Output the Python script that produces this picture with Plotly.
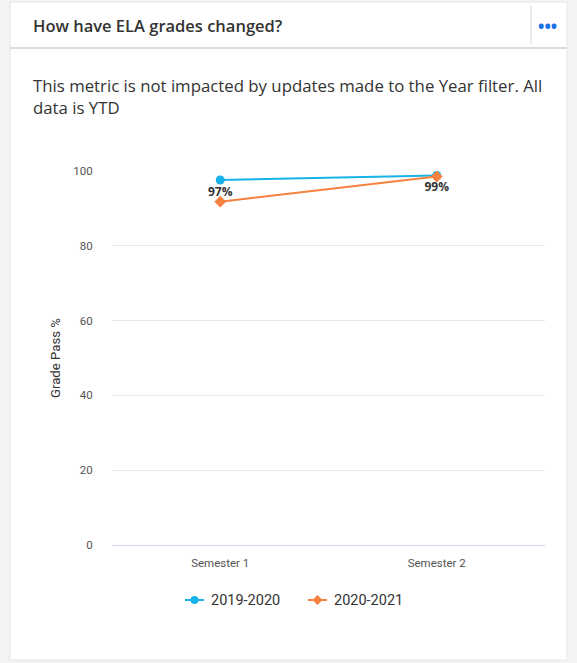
import plotly.graph_objects as go

semesters = ["Semester 1", "Semester 2"]
series_names = ["2019-2020", "2020-2021"]
series_colors = ["#17b2e8", "#f7813e"]
values_2019 = [97.6, 98.8]
values_2020 = [91.8, 98.5]
labels_2019 = ["97%", "99%"]
y_ticks = [0, 20, 40, 60, 80, 100]

W, H = 577, 663
L, R, T, B = 112, 545, 171, 545  # plot area in pixels


def px(x):
    return (x - L) / (R - L)


def py(y):
    return (B - y) / (B - T)


fig = go.Figure()

fig.add_trace(go.Scatter(
    x=semesters, y=values_2019, name=series_names[0],
    mode="lines+markers+text",
    line=dict(color=series_colors[0], width=2),
    marker=dict(symbol="circle", size=9, color=series_colors[0]),
    text=labels_2019, textposition="bottom center",
    textfont=dict(family="Open Sans", size=12, color="#333333", weight="bold"),
    cliponaxis=False,
))
fig.add_trace(go.Scatter(
    x=semesters, y=values_2020, name=series_names[1],
    mode="lines+markers",
    line=dict(color=series_colors[1], width=2),
    marker=dict(symbol="diamond", size=9, color=series_colors[1]),
    cliponaxis=False,
))

shapes = [
    # card
    dict(type="rect", xref="paper", yref="paper", x0=px(10), x1=px(567), y0=py(660), y1=py(2),
         fillcolor="white", line=dict(color="#e3e6e8", width=1), layer="below"),
    # header divider
    dict(type="line", xref="paper", yref="paper", x0=px(10), x1=px(567), y0=py(48), y1=py(48),
         line=dict(color="#d9dcde", width=2)),
    # separator next to menu
    dict(type="line", xref="paper", yref="paper", x0=px(531), x1=px(531), y0=py(6), y1=py(44),
         line=dict(color="#d0d3d5", width=1)),
]

annotations = [
    dict(text="How have ELA grades changed?", xref="paper", yref="paper",
         x=px(31), y=py(25), xanchor="left", yanchor="middle", showarrow=False,
         font=dict(family="Open Sans", size=16.5, color="#333333", weight=600)),
    dict(text="<b>•••</b>", xref="paper", yref="paper",
         x=px(547), y=py(26), xanchor="center", yanchor="middle", showarrow=False,
         font=dict(family="Open Sans", size=17, color="#1a73e8")),
    dict(text="This metric is not impacted by updates made to the Year filter. All<br>data is YTD",
         xref="paper", yref="paper", x=px(31), y=py(96), xanchor="left", yanchor="middle",
         align="left", showarrow=False,
         font=dict(family="Open Sans", size=16.8, color="#333333")),
    dict(text="Grade Pass %", xref="paper", yref="paper", x=px(55), y=py(358),
         xanchor="center", yanchor="middle", textangle=-90, showarrow=False,
         font=dict(family="Roboto", size=13.2, color="#333333")),
]

# compact legend drawn by hand (short symbol lines like the reference)
legend_y = 600
legend_left = [185, 308]
for name, color, lx, sym in zip(series_names, series_colors, legend_left, ["circle", "diamond"]):
    cx = lx + 9.5
    shapes.append(dict(type="line", xref="paper", yref="paper",
                       x0=px(lx), x1=px(lx + 19), y0=py(legend_y), y1=py(legend_y),
                       line=dict(color=color, width=2)))
    if sym == "circle":
        shapes.append(dict(type="circle", xref="paper", yref="paper",
                           x0=px(cx - 4), x1=px(cx + 4), y0=py(legend_y + 4), y1=py(legend_y - 4),
                           fillcolor=color, line=dict(width=0)))
    else:
        path = "M {} {} L {} {} L {} {} L {} {} Z".format(
            px(cx), py(legend_y - 5), px(cx + 5), py(legend_y),
            px(cx), py(legend_y + 5), px(cx - 5), py(legend_y))
        shapes.append(dict(type="path", xref="paper", yref="paper", path=path,
                           fillcolor=color, line=dict(width=0)))
    annotations.append(dict(text=name, xref="paper", yref="paper", x=px(lx + 24), y=py(legend_y),
                            xanchor="left", yanchor="middle", showarrow=False,
                            font=dict(family="Roboto", size=14.5, color="#333333")))

fig.update_layout(
    width=W, height=H,
    margin=dict(l=L, r=W - R, t=T, b=H - B),
    paper_bgcolor="#f1f3f4",
    plot_bgcolor="rgba(0,0,0,0)",
    shapes=shapes,
    annotations=annotations,
    showlegend=False,
    xaxis=dict(
        type="category", range=[-0.5, 1.5], showgrid=False, zeroline=False,
        showline=False, ticks="outside", ticklen=7, tickcolor="rgba(0,0,0,0)",
        tickfont=dict(family="Roboto", size=11.5, color="#555555"),
    ),
    yaxis=dict(
        range=[0, 100], tickvals=y_ticks, showgrid=True, gridcolor="#e6e6e6",
        zeroline=True, zerolinecolor="#ccd6eb", zerolinewidth=1,
        showline=False, ticks="outside", ticklen=16, tickcolor="rgba(0,0,0,0)",
        tickfont=dict(family="Roboto", size=11.5, color="#555555"),
    ),
)

fig.write_html(
    "out.html",
    config={"displayModeBar": False},
    post_script="document.body.style.margin='0';document.body.style.background='#f1f3f4';",
)
